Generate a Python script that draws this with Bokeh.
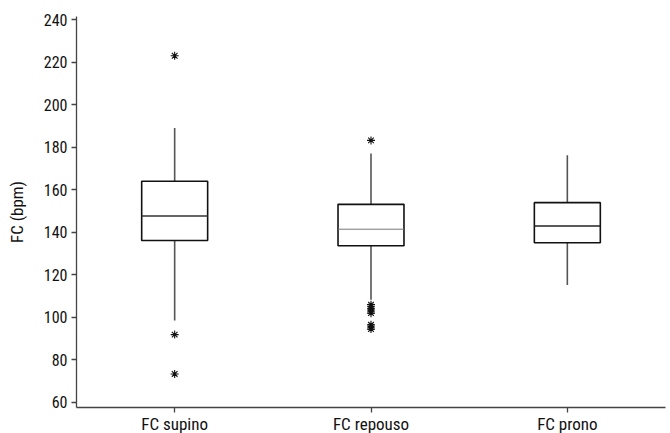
from bokeh.plotting import figure
from bokeh.models import Range1d, FixedTicker
from bokeh.embed import file_html
from bokeh.resources import INLINE

categories = ["FC supino", "FC repouso", "FC prono"]
q1 = [136.2, 133.7, 135.1]
median = [147.7, 141.5, 143.0]
q3 = [164.1, 153.2, 154.0]
whisker_low = [98.5, 108.3, 115.3]
whisker_high = [189.1, 177.1, 176.3]
outliers = [
    [223.1, 91.9, 73.4],
    [183.3, 106, 105, 104, 103, 102, 96.5, 95.5, 94.5],
    [],
]
y_ticks = [60, 80, 100, 120, 140, 160, 180, 200, 220, 240]

FONT = "Liberation Sans Narrow, Roboto Condensed, DejaVu Sans Condensed, sans-serif"

xs = [i + 0.5 for i in range(len(categories))]

p = figure(frame_width=589, frame_height=391, output_backend="svg", toolbar_location=None,
           x_range=Range1d(0, 3), y_range=Range1d(57.6, 241.6),
           min_border_left=76, min_border_right=5, min_border_top=16, min_border_bottom=26)
p.outline_line_color = None
p.xgrid.visible = False
p.ygrid.visible = False

# whiskers
p.segment(x0=xs, y0=q3, x1=xs, y1=whisker_high, line_color="#555555", line_width=1.6)
p.segment(x0=xs, y0=q1, x1=xs, y1=whisker_low, line_color="#555555", line_width=1.6)
# boxes
p.vbar(x=xs, width=0.336, bottom=q1, top=q3, fill_color="white", line_color="#111111", line_width=1.6)
# medians
med_colors = ["#333333", "#777777", "#222222"]
med_widths = [1.6, 1.0, 1.6]
for x, m, c, w in zip(xs, median, med_colors, med_widths):
    p.segment(x0=[x - 0.168], y0=[m], x1=[x + 0.168], y1=[m], line_color=c, line_width=w)
# outliers
ox, oy = [], []
for x, vals in zip(xs, outliers):
    for v in vals:
        ox.append(x)
        oy.append(v)
p.scatter(ox, oy, marker="asterisk", size=8, line_color="#111111", line_width=1.1)

p.xaxis.ticker = FixedTicker(ticks=xs)
p.xaxis.major_label_overrides = {x: c for x, c in zip(xs, categories)}
p.yaxis.ticker = FixedTicker(ticks=y_ticks)
p.yaxis.axis_label = "FC (bpm)"

for ax in (p.xaxis[0], p.yaxis[0]):
    ax.axis_line_color = "#444444"
    ax.axis_line_width = 1.3
    ax.major_tick_line_color = "#444444"
    ax.major_tick_line_width = 1.3
    ax.major_tick_out = 5
    ax.major_tick_in = 0
    ax.minor_tick_line_color = None
    ax.major_label_text_font = FONT
    ax.major_label_text_color = "#111111"
    ax.axis_label_text_font = FONT
    ax.axis_label_text_font_size = "17px"
    ax.axis_label_text_font_style = "normal"
    ax.axis_label_text_color = "#111111"
p.xaxis.major_label_text_font_size = "17px"
p.yaxis.major_label_text_font_size = "16px"
p.xaxis.major_label_standoff = 1
p.yaxis.major_label_standoff = 4
p.yaxis.axis_label_standoff = 14

open("out.html", "w").write(file_html(p, INLINE))
